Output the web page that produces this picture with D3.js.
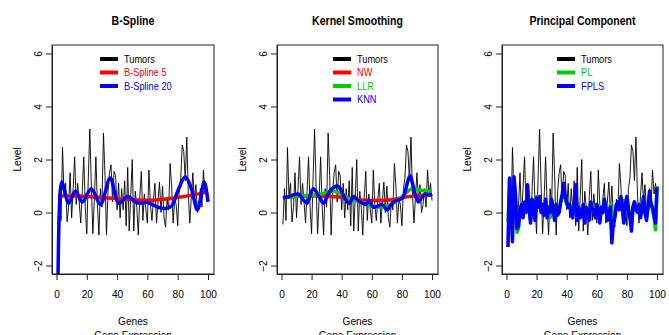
<!DOCTYPE html>
<html>
<head>
<meta charset="utf-8">
<script src="https://cdn.jsdelivr.net/npm/d3@7"></script>
<style>
  body { margin: 0; background: #fff; }
  svg { display: block; }
  text { font-family: "Liberation Sans", Arial, sans-serif; fill: #000; }
</style>
</head>
<body>
<div id="chart"></div>
<script>
// gene index 1..100
const genes = d3.range(1, 101);

const tumors = [
  -0.45, 0.9, -0.3, 2.45, 0.6, 1.1, -0.35, 0.2, 1.5, -0.2,
  0.9, 2.1, 0.3, 1.1, 0.4, -0.4, 0.8, 2.1, 0.2, -0.8,
  1.3, 3.15, 1.0, -0.8, 0.5, 2.1, 0.3, -0.85, 0.9, 0.2,
  3.0, 1.4, -0.85, 0.8, 1.5, 1.8, 0.4, 1.55, 1.4, 0.1,
  1.1, -0.2, 0.9, 0.1, 1.2, -0.5, 1.7, -0.7, 0.6, 2.0,
  -0.7, 0.8, 0.2, -0.85, 0.6, 1.55, -0.3, 0.7, 0.1, -0.4,
  1.6, 0.3, -0.3, 0.5, 1.1, -0.4, 0.4, 1.15, 0.0, 1.0,
  -0.2, -0.55, 0.5, 0.1, 1.85, 1.0, -0.4, 0.5, 0.3, -0.5,
  0.9, 1.3, 2.55, 2.3, 1.2, 2.85, 0.7, -0.4, 0.6, 1.5,
  0.4, 1.05, 0.0, 0.3, 0.9, 0.2, 1.6, 0.7, 1.1, 0.45
];

// B-Spline panel
const bs5X = [1, 20, 40, 60, 80, 100];
const bs5Y = [0.63, 0.6, 0.52, 0.46, 0.57, 0.77];
const bs20X = [1, 1.6, 2.5, 3.5, 5, 8, 12.5, 17, 23, 29, 35.5, 41, 47, 52, 55, 60, 67, 72, 76, 80, 85, 89, 93, 97.5, 100];
const bs20Y = [-2.5, -0.5, 0.8, 1.15, 0.9, 0.35, 0.8, 0.4, 0.9, 0.3, 1.3, 0.35, 0.6, 0.4, 0.35, 0.38, 0.2, 0.15, 0.25, 0.8, 1.35, 0.9, 0.1, 1.15, 0.4];

// Kernel smoothing panel
const nwX = [1, 20, 40, 55, 70, 85, 100];
const nwY = [0.57, 0.62, 0.58, 0.47, 0.46, 0.6, 0.68];
const llrX = [1, 10, 25, 33, 38, 45, 55, 62, 70, 78, 85, 87, 95, 100];
const llrY = [0.55, 0.6, 0.68, 0.8, 0.75, 0.5, 0.35, 0.22, 0.25, 0.5, 0.85, 0.9, 0.82, 0.82];
const knnX = [1, 5, 11, 15, 17, 21, 25, 28, 32, 35, 37, 39, 42, 45, 48, 51, 54, 56, 58, 61, 64, 67, 70, 73, 76, 79, 81, 84, 85.5, 87, 89, 91, 93, 96, 98, 100];
const knnY = [0.55, 0.6, 0.7, 0.45, 0.35, 0.9, 0.6, 0.35, 0.8, 0.95, 1.0, 0.9, 0.55, 0.35, 0.6, 0.45, 0.35, 0.3, 0.45, 0.2, 0.25, 0.3, 0.1, 0.3, 0.45, 0.5, 0.6, 1.2, 1.4, 1.1, 0.65, 0.4, 0.55, 0.7, 0.65, 0.7];

// Principal component panel
const pl = [
  -0.35, 0.9, 0.3, -0.6, 1.0, 0.5, -0.75, -0.6, 0.0, 0.2,
  -0.1, 0.3, 0.1, 0.8, 0.2, -0.3, 0.4, 0.3, -0.2, 0.6,
  0.3, 0.55, 0.1, 0.3, 0.0, 0.4, -0.1, 0.2, -0.2, 0.45,
  0.2, -0.2, 0.3, 0.0, 0.1, 0.4, 0.6, 0.9, 0.5, 0.3,
  0.35, 0.3, 0.0, -0.1, 0.3, 0.8, -0.2, 0.2, -0.1, 0.0,
  0.3, -0.3, 0.2, 0.1, -0.2, 0.35, 0.2, 0.1, -0.1, 0.3,
  0.1, -0.3, 0.2, 0.1, 0.45, 0.3, -0.2, 0.0, 0.3, -0.8,
  -0.3, -0.1, 0.3, 0.35, 0.2, 0.55, 0.3, -0.3, 0.3, 0.6,
  0.2, -0.1, -0.5, 0.2, 0.4, 0.2, 0.1, 0.3, -0.1, 0.2,
  0.5, 0.1, -0.2, 0.2, 0.7, 0.3, 0.1, -0.2, -0.65, 1.0
];
const fpls = [
  -1.3, 1.3, 0.2, -1.1, 1.35, 0.7, -0.6, -0.5, 0.1, 0.3,
  -0.2, 0.4, 0.0, 1.05, 0.2, -0.4, 0.5, 0.3, -0.3, 0.55,
  0.2, 0.6, 0.0, 0.3, -0.1, 0.5, -0.2, 0.2, 0.0, 0.5,
  0.1, -0.3, 0.3, -0.1, 0.0, 0.4, 0.7, 1.1, 0.6, 0.4,
  0.2, 0.3, -0.1, -0.2, 0.3, 1.05, -0.3, 0.2, -0.2, -0.1,
  0.3, -0.4, 0.2, 0.0, -0.3, 0.4, 0.1, 0.1, -0.2, 0.3,
  0.0, -0.4, 0.2, 0.0, 0.5, 0.2, -0.3, -0.1, 0.2, -1.15,
  -0.4, -0.2, 0.3, 0.4, 0.1, 0.6, 0.2, -0.4, 0.3, 0.6,
  0.1, -0.2, -0.7, 0.2, 0.4, 0.1, 0.0, 0.3, -0.2, 0.1,
  0.6, 0.0, -0.3, 0.2, 0.8, 0.3, 0.2, -0.1, -0.4, 0.95
];

const xTicks = [0, 20, 40, 60, 80, 100];
const yTicks = [-2, 0, 2, 4, 6];

const zip = (xs, ys) => xs.map((x, i) => [x, ys[i]]);
const tumorPts = zip(genes, tumors);

const panels = [
  {
    title: 'B-Spline', left: 52, right: 214,
    series: [
      { name: 'Tumors', color: '#000', pts: tumorPts, thin: true },
      { name: 'B-Spline 5', color: '#ff0000', pts: zip(bs5X, bs5Y), smooth: true },
      { name: 'B-Spline 20', color: '#0000ff', pts: zip(bs20X, bs20Y), smooth: true }
    ],
    legendX: 100
  },
  {
    title: 'Kernel Smoothing', left: 277, right: 438,
    series: [
      { name: 'Tumors', color: '#000', pts: tumorPts, thin: true },
      { name: 'NW', color: '#ff0000', pts: zip(nwX, nwY), smooth: true },
      { name: 'LLR', color: '#00cd00', pts: zip(llrX, llrY), smooth: true },
      { name: 'KNN', color: '#0000ff', pts: zip(knnX, knnY), smooth: true }
    ],
    legendX: 333
  },
  {
    title: 'Principal Component', left: 502, right: 663,
    series: [
      { name: 'Tumors', color: '#000', pts: tumorPts, thin: true },
      { name: 'PL', color: '#00cd00', pts: zip(genes, pl) },
      { name: 'FPLS', color: '#0000ff', pts: zip(genes, fpls) }
    ],
    legendX: 557
  }
];

const W = 669, H = 335, plotTop = 45, plotBottom = 274;
const squeeze = 0.88; // the source text is a bit condensed

const svg = d3.select('#chart').append('svg')
  .attr('width', W).attr('height', H);

// text placed at (x, y), narrowed horizontally, optionally rotated
function label(g, x, y, str, size, rot) {
  return g.append('text')
    .attr('transform', `translate(${x},${y})${rot ? ` rotate(${rot})` : ''} scale(${squeeze},1)`)
    .style('font-size', size + 'px')
    .text(str);
}

panels.forEach((p, pi) => {
  const x = d3.scaleLinear().domain([1 - 3.96, 100 + 3.96]).range([p.left, p.right]);
  const y = d3.scaleLinear().domain([-2.32, 6.32]).range([plotBottom, plotTop]);
  const g = svg.append('g');
  const cx = (p.left + p.right) / 2;

  g.append('clipPath').attr('id', 'clip' + pi)
    .append('rect').attr('x', p.left).attr('y', plotTop)
    .attr('width', p.right - p.left).attr('height', plotBottom - plotTop);

  const plot = g.append('g').attr('clip-path', `url(#clip${pi})`);
  p.series.forEach(s => {
    const line = d3.line().x(d => x(d[0])).y(d => y(d[1]))
      .curve(s.smooth ? d3.curveCatmullRom.alpha(0.5) : d3.curveLinear);
    plot.append('path').datum(s.pts)
      .attr('fill', 'none')
      .attr('stroke', s.color)
      .attr('stroke-width', s.thin ? 0.9 : 3.5)
      .attr('stroke-linejoin', 'round')
      .attr('d', line);
  });

  // box
  g.append('rect').attr('x', p.left).attr('y', plotTop)
    .attr('width', p.right - p.left).attr('height', plotBottom - plotTop)
    .attr('fill', 'none').attr('stroke', '#222').attr('stroke-width', 1);

  // x axis
  g.append('g').attr('transform', `translate(0,${plotBottom})`)
    .call(d3.axisBottom(x).tickValues(xTicks).tickSize(6).tickSizeOuter(0).tickPadding(10))
    .call(a => a.select('.domain').attr('stroke', '#222'))
    .call(a => a.selectAll('.tick line').attr('stroke', '#222'))
    .call(a => a.selectAll('.tick text')
      .attr('transform', `scale(${squeeze},1)`)
      .style('font-size', '11.5px').attr('fill', '#000'));

  // y axis
  const ya = g.append('g').attr('transform', `translate(${p.left},0)`)
    .call(d3.axisLeft(y).tickValues(yTicks).tickSize(6).tickSizeOuter(0));
  ya.select('.domain').attr('stroke', '#222');
  ya.selectAll('.tick line').attr('stroke', '#222');
  ya.selectAll('.tick text')
    .attr('x', null)
    .attr('text-anchor', 'middle')
    .attr('transform', `translate(-14,0) rotate(-90) scale(${squeeze},1)`)
    .attr('dy', '0.35em')
    .style('font-size', '11.5px').attr('fill', '#000');

  // titles and axis labels
  label(g, cx, 25, p.title, 12).attr('text-anchor', 'middle').style('font-weight', 'bold');
  label(g, cx, 325, 'Genes', 11.5).attr('text-anchor', 'middle');
  label(g, cx, 338.5, 'Gene Expression', 11.5).attr('text-anchor', 'middle');
  label(g, p.left - 31, (plotTop + plotBottom) / 2, 'Level', 11.5, -90).attr('text-anchor', 'middle');

  // legend
  const lg = g.append('g');
  p.series.forEach((s, i) => {
    const ly = 59 + i * 13.5;
    lg.append('line').attr('x1', p.legendX).attr('x2', p.legendX + 18)
      .attr('y1', ly).attr('y2', ly)
      .attr('stroke', s.color).attr('stroke-width', 4);
    label(lg, p.legendX + 24, ly, s.name, 10.5)
      .attr('dy', '0.35em').style('fill', s.color);
  });
});
</script>
</body>
</html>
